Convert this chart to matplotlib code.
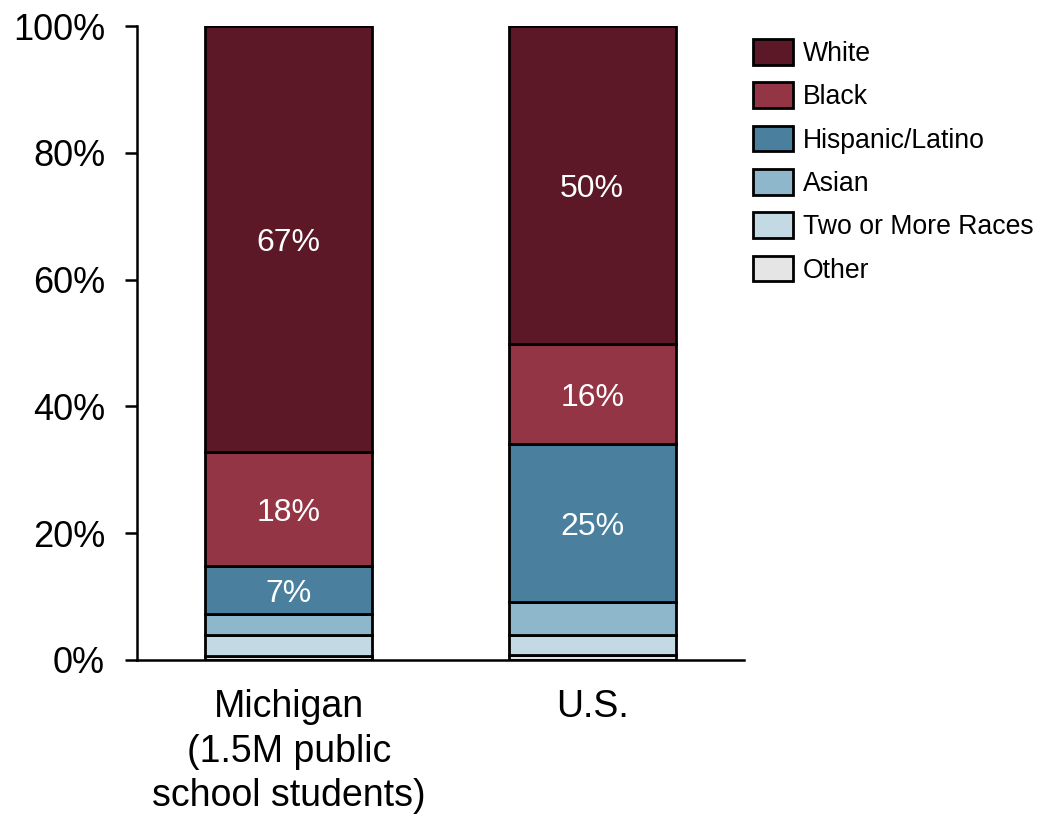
import numpy as np
import matplotlib.pyplot as plt

plt.rcParams['font.family'] = ['Liberation Sans', 'DejaVu Sans']

# Kategorie i udziały (%)
regions = ["Michigan\n(1.5M public\nschool students)", "U.S."]
groups = ["White", "Black", "Hispanic/Latino", "Asian", "Two or More Races", "Other"]
other = [0.6, 0.8]
two_more = [3.4, 3.2]
asian = [3.2, 5.1]
hispanic = [7.6, 24.9]
black = [18.0, 15.8]
white = [67.2, 50.2]
labels_hispanic = ["7%", "25%"]
labels_black = ["18%", "16%"]
labels_white = ["67%", "50%"]

colors = {
    "White": "#5c1826",
    "Black": "#943545",
    "Hispanic/Latino": "#4a7f9d",
    "Asian": "#8fb7cc",
    "Two or More Races": "#c3dae4",
    "Other": "#e5e5e5",
}

fig = plt.figure(figsize=(10.39, 8.14), dpi=100)
ax = fig.add_axes([0.1319, 0.1892, 0.5841, 0.7788])

x = np.arange(len(regions))
w = 0.55
stack = [("Other", other), ("Two or More Races", two_more), ("Asian", asian),
         ("Hispanic/Latino", hispanic), ("Black", black), ("White", white)]
bottom = np.zeros(len(regions))
bars = {}
bottoms = {}
for name, vals in stack:
    vals = np.array(vals)
    bars[name] = ax.bar(x, vals, w, bottom=bottom, color=colors[name],
                        edgecolor="black", linewidth=2.0, label=name)
    bottoms[name] = bottom.copy()
    bottom = bottom + vals

# etykiety w środku segmentów
for name, vals, labs in [("Hispanic/Latino", hispanic, labels_hispanic),
                         ("Black", black, labels_black),
                         ("White", white, labels_white)]:
    for i, lab in enumerate(labs):
        ax.annotate(lab, (x[i], bottoms[name][i] + vals[i] / 2),
                    xytext=(0, -2.5), textcoords="offset points",
                    ha="center", va="center", color="white", fontsize=23)

ax.set_xlim(-0.5, 1.5)
ax.set_ylim(0, 100)
ax.set_yticks(np.arange(0, 101, 20))
ax.set_yticklabels([f"{v}%" for v in range(0, 101, 20)], fontsize=26)
ax.set_xticks(x)
ax.set_xticklabels(regions, fontsize=27, linespacing=1.3)
ax.tick_params(axis="x", length=0, pad=21)
ax.tick_params(axis="y", length=9, width=1.8, pad=14)
for s in ["top", "right"]:
    ax.spines[s].set_visible(False)
for s in ["left", "bottom"]:
    ax.spines[s].set_linewidth(1.8)

handles = [bars[g] for g in groups]
leg = fig.legend(handles, groups, loc="upper left",
                 bbox_to_anchor=(753 / 1039, (814 - 39) / 814),
                 frameon=False, fontsize=19.2, handlelength=1.5, handleheight=1.1,
                 labelspacing=0.58, handletextpad=0.37, borderpad=0,
                 borderaxespad=0)

fig.savefig("out.png", dpi=100)
